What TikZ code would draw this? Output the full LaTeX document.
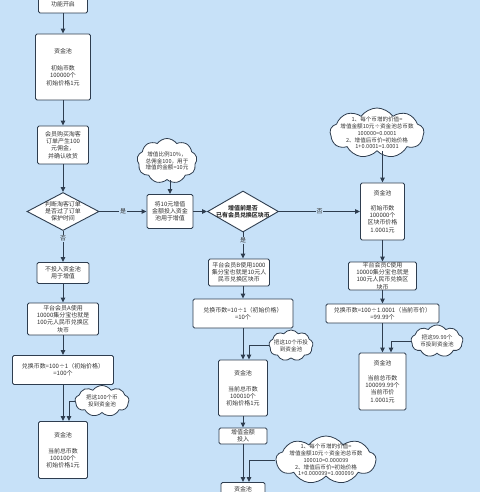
\documentclass[tikz,border=0pt]{standalone}
\usepackage{fontspec}
\setmainfont{Noto Sans CJK SC}
\usetikzlibrary{arrows.meta,shapes.geometric,shapes.symbols}
\definecolor{bg}{HTML}{C7E1F8}
\definecolor{ln}{HTML}{2E3D4F}
\definecolor{tx}{HTML}{333333}
\begin{document}
\begin{tikzpicture}[x=1bp,y=-1bp,
  every node/.style={font=\fontsize{6}{7.2}\selectfont, text=tx, align=center},
  box/.style={rectangle, rounded corners=1.5bp, draw=ln, line width=0.9bp, fill=white, inner sep=0pt},
  dia/.style={diamond, draw=ln, line width=0.9bp, fill=white, inner sep=-2bp},
  cld/.style={cloud, cloud puffs=9, cloud puff arc=110, cloud ignores aspect, draw=ln, line width=0.8bp, fill=white, inner xsep=-14bp, inner ysep=-7bp, font=\fontsize{5.6}{6.8}\selectfont},
  arr/.style={draw=ln, line width=1bp, -{Triangle[length=5bp,width=4.5bp]}},
  lbl/.style={fill=bg, inner sep=1bp}]
\useasboundingbox (0,0) rectangle (480,492);
\fill[bg] (0,0) rectangle (480,492);

% left column
\node[box, minimum width=49bp, minimum height=18bp] (b1) at (63,4) {功能开启};
\node[box, minimum width=55bp, minimum height=66bp] (b2) at (63,67) {资金池\\[10bp]初始币数\\100000个\\初始价格1元};
\node[box, minimum width=51bp, minimum height=38bp] (b3) at (63,145) {会员购买淘客\\订单产生100\\元佣金，\\并确认收货};
\node[dia, aspect=1.9, minimum width=72bp, minimum height=38bp] (d1) at (63,211.5) {判断淘客订单\\是否过了订单\\保护时间};
\node[box, minimum width=52bp, minimum height=21bp] (b5) at (63,273) {不投入资金池\\用于增值};
\node[box, minimum width=71bp, minimum height=32bp] (b6) at (63,319) {平台会员A使用\\10000集分宝也就是\\100元人民币兑换区\\块币};
\node[box, minimum width=101bp, minimum height=29bp] (b7) at (63,370) {兑换币数=100÷1（初始价格）\\=100个};
\node[cld, minimum width=54bp, minimum height=31bp] (c1) at (102,401) {把这100个币\\投到资金池};
\node[box, minimum width=49bp, minimum height=57bp] (b9) at (63,450) {资金池\\[9bp]当前总币数\\100100个\\初始价格1元};

% middle column
\node[cld, minimum width=60bp, minimum height=45bp] (c2) at (167,161) {增值比例10\%，\\总佣金100，用于\\增值的金额=10元};
\node[box, minimum width=46bp, minimum height=34bp] (b11) at (170,211.5) {将10元增值\\金额投入资金\\池用于增值};
\node[dia, aspect=1.73, minimum width=71bp, minimum height=41bp, font=\fontsize{6}{7.2}\selectfont\bfseries] (d2) at (243,211.5) {增值前是否\\已有会员兑换区块币};
\node[box, minimum width=61bp, minimum height=27bp] (b13) at (239,272.5) {平台会员B使用1000\\集分宝也就是10元人\\民币兑换区块币};
\node[box, minimum width=100bp, minimum height=29bp] (b14) at (243,313.5) {兑换币数=10÷1（初始价格）\\=10个};
\node[cld, minimum width=44bp, minimum height=31bp] (c3) at (291,345.5) {把这10个币投\\到资金池};
\node[box, minimum width=49bp, minimum height=56bp] (b15) at (243,388) {资金池\\[9bp]当前总币数\\100010个\\初始价格1元};
\node[box, minimum width=48bp, minimum height=16bp] (b16) at (243,436) {增值金额\\投入};
\node[cld, minimum width=100bp, minimum height=48bp] (c5) at (326,460) {1、每个币增的价值=\\增值金额10元÷资金池总币数\\100010=0.000099\\2、增值后币价=初始价格\\1+0.000099=1.000099};
\node[box, minimum width=44bp, inner ysep=4bp, anchor=north] (b17) at (243,482) {资金池};

% right column
\node[cld, minimum width=94bp, minimum height=50bp] (c4) at (377,133) {1、每个币增的价值=\\增值金额10元÷资金池总币数\\100000=0.0001\\2、增值后币价=初始价格\\1+0.0001=1.0001};
\node[box, minimum width=44bp, minimum height=57bp] (b18) at (382.5,211.5) {资金池\\[8bp]初始币数\\100000个\\区块币价格\\1.0001元};
\node[box, minimum width=68bp, minimum height=28bp] (b19) at (382.5,276) {平台会员C使用\\10000集分宝也就是\\100元人民币兑换区\\块币};
\node[box, minimum width=113bp, minimum height=19bp] (b20) at (382.5,313.5) {兑换币数=100÷1.0001（当前币价）\\=99.99个};
\node[cld, minimum width=52bp, minimum height=32bp] (c6) at (437,341) {把这99.99个\\币投到资金池};
\node[box, minimum width=47bp, minimum height=57bp] (b21) at (382.5,381.5) {资金池\\[8bp]当前总币数\\100099.99个\\当前币价\\1.0001元};

% connectors left
\draw[arr] (b1) -- (b2);
\draw[arr] (b2) -- (b3);
\draw[arr] (b3) -- (d1);
\draw[arr] (d1) -- node[lbl, pos=0.25] {否} (b5);
\draw[arr] (b5) -- (b6);
\draw[arr] (b6) -- (b7);
\draw[arr] (b7) -- (b9);
\draw[arr] (c1.west) -| ([xshift=6bp]b9.north);

% connectors middle
\draw[arr] (d1) -- node[lbl] {是} (b11);
\draw[arr] (b11.north |- c2.south) -- (b11.north);
\draw[arr] (b11) -- (d2);
\draw[arr] (d2) -- node[lbl, pos=0.3] {是} (b13.north -| d2);
\draw[arr] (b13.south -| b14) -- (b14);
\draw[arr] (b14) -- (b15);
\draw[arr] (c3.west) -| ([xshift=6bp]b15.north);
\draw[arr] (b15) -- (b16);
\draw[arr] (b16) -- (b17);
\draw[arr] (c5.west) -| ([xshift=6bp]b17.north);

% connectors right
\draw[arr] (d2) -- node[lbl] {否} (b18);
\draw[arr] (b18.north |- c4.south) -- (b18.north);
\draw[arr] (b18) -- (b19);
\draw[arr] (b19) -- (b20);
\draw[arr] (b20) -- (b21);
\draw[arr] (c6.west) -| ([xshift=8.5bp]b21.north);
\end{tikzpicture}
\end{document}
